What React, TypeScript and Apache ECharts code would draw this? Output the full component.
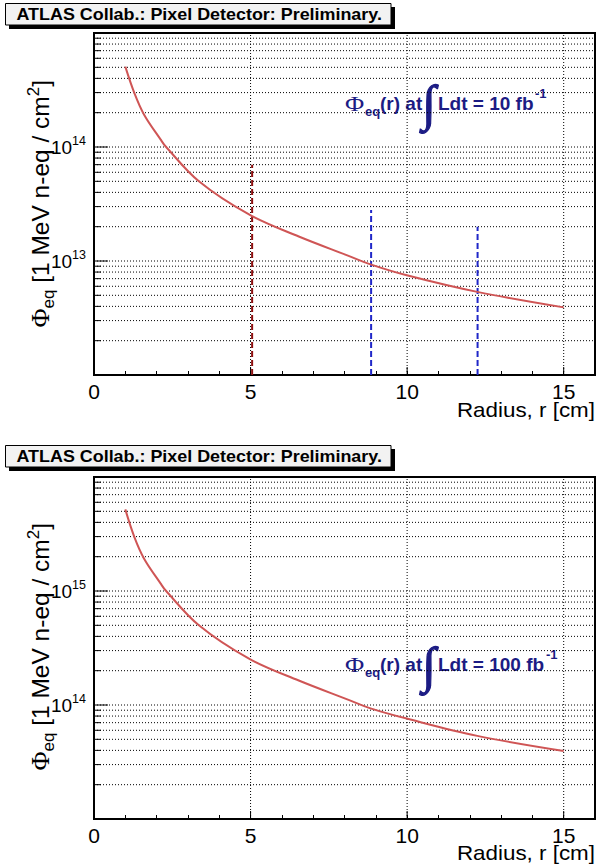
import React, { useEffect, useRef } from "react";
import * as echarts from "echarts";

// ---- data ----
const radius = [1.0, 1.29, 1.6, 2.13, 2.29, 3.35, 4.95, 6.54, 8.13, 8.83, 9.99, 12.24, 15.0];
const fluence10 = [5.07e14, 2.97e14, 1.92e14, 1.16e14, 1.01e14, 5.0e13, 2.56e13, 1.64e13, 1.11e13, 9.35e12, 7.5e12, 5.36e12, 3.92e12];
const fluence100 = [5.2e15, 2.97e15, 1.92e15, 1.16e15, 1.01e15, 5.0e14, 2.55e14, 1.64e14, 1.11e14, 9.35e13, 7.6e13, 5.36e13, 3.95e13];
const layerRadius = [5.05, 8.85, 12.25];
const layerTop = [7e13, 2.8e13, 2e13];
const xRange = [0, 16];
const xMajorTicks = [0, 5, 10, 15];
const yRangeTop = [1e12, 1e15];
const yRangeBottom = [1e13, 1e16];
const decadesTop = [12, 13, 14];
const decadesBottom = [13, 14, 15];
const minorMultipliers = [1, 2, 3, 4, 5, 6, 7, 8, 9];
const lumiLabels = ["10", "100"];
const titleText = "ATLAS Collab.: Pixel Detector: Preliminary.";
const xAxisTitle = "Radius, r [cm]";

const FONT = "'Liberation Sans', Arial, Helvetica, sans-serif";
const NAVY = "#1c1c84";

function gridValues(decades: number[]) {
  const out: number[][] = [];
  decades.forEach((d) => minorMultipliers.forEach((m) => out.push([xRange[0], m * Math.pow(10, d)])));
  return out;
}

function hGridSeries(idx: number, yMin: number, yMax: number, decades: number[]) {
  return {
    type: "custom",
    xAxisIndex: idx,
    yAxisIndex: idx,
    z: 1,
    silent: true,
    clip: false,
    data: gridValues(decades),
    encode: { x: 0, y: 1 },
    renderItem: (_p: any, api: any) => {
      const v = api.value(1);
      const p0 = api.coord([xRange[0], v]);
      const p1 = api.coord([xRange[1], v]);
      const lg = Math.log10(v);
      const major = Math.abs(lg - Math.round(lg)) < 1e-9;
      const children: any[] = [];
      if (v > yMin && v < yMax) {
        children.push({
          type: "line",
          shape: { x1: p0[0], y1: p0[1], x2: p1[0], y2: p1[1] },
          style: { stroke: "#000", lineWidth: 1, lineDash: [1, 2] },
        });
      }
      if (v > yMin) {
        children.push({
          type: "line",
          shape: { x1: p0[0], y1: p0[1], x2: p0[0] + (major ? 14 : 7), y2: p0[1] },
          style: { stroke: "#000", lineWidth: 1 },
        });
      }
      return { type: "group", children };
    },
  };
}

function vGridSeries(idx: number, yMin: number, yMax: number) {
  return {
    type: "custom",
    xAxisIndex: idx,
    yAxisIndex: idx,
    z: 1,
    silent: true,
    clip: false,
    data: xMajorTicks.map((x) => [x, yMin]),
    encode: { x: 0, y: 1 },
    renderItem: (_p: any, api: any) => {
      const x = api.value(0);
      const p0 = api.coord([x, yMin]);
      const p1 = api.coord([x, yMax]);
      const children: any[] = [];
      if (x > xRange[0]) {
        children.push({
          type: "line",
          shape: { x1: p0[0], y1: p0[1], x2: p1[0], y2: p1[1] },
          style: { stroke: "#000", lineWidth: 1, lineDash: [1, 2] },
        });
      }
      children.push({
        type: "line",
        shape: { x1: p0[0], y1: p0[1], x2: p0[0], y2: p0[1] - 8 },
        style: { stroke: "#000", lineWidth: 1 },
      });
      return { type: "group", children };
    },
  };
}

function titleBox(oy: number) {
  return [
    { type: "rect", shape: { x: 9, y: 7 + oy, width: 386, height: 22 }, style: { fill: "#000" } },
    {
      type: "rect",
      shape: { x: 5.5, y: 3.5 + oy, width: 385.5, height: 21.5 },
      style: { fill: "#f2f2f2", stroke: "#000", lineWidth: 1 },
    },
    {
      type: "text",
      x: 16.5,
      y: 14.5 + oy,
      scaleX: 1.12,
      style: {
        text: titleText,
        fill: "#000",
        fontFamily: FONT,
        fontWeight: "bold",
        fontSize: 16,
        align: "left",
        verticalAlign: "middle",
      },
    },
  ];
}

function annotation(baseline: number, lumi: string, supX: number) {
  const bold = { fontFamily: FONT, fontWeight: "bold", fill: NAVY };
  return [
    {
      type: "text",
      x: 345,
      y: baseline - 6.5,
      scaleX: 1.25,
      style: { text: "Φ", fontFamily: "'Liberation Serif', serif", fontSize: 21, fill: NAVY, verticalAlign: "middle" },
    },
    { type: "text", x: 365, y: baseline + 1, style: { ...bold, text: "eq", fontSize: 13, verticalAlign: "middle" } },
    { type: "text", x: 380, y: baseline - 6.7, style: { ...bold, text: "(r) at", fontSize: 19, verticalAlign: "middle" } },
    {
      type: "text",
      x: 422,
      y: baseline - 7,
      style: {
        text: "∫",
        fontFamily: "'Liberation Serif', serif",
        fontSize: 50,
        fill: NAVY,
        stroke: NAVY,
        lineWidth: 1.2,
        verticalAlign: "middle",
      },
    },
    { type: "text", x: 438, y: baseline - 6.7, style: { ...bold, text: `Ldt = ${lumi} fb`, fontSize: 19, verticalAlign: "middle" } },
    { type: "text", x: supX, y: baseline - 17, style: { ...bold, text: "-1", fontSize: 13, verticalAlign: "middle" } },
  ];
}

function yTitle(topY: number) {
  return {
    type: "text",
    x: 40.5,
    y: topY,
    rotation: Math.PI / 2,
    style: {
      text: "{p|Φ}{sub|eq}{n| [1 MeV n-eq / cm}{sup|2}{n|]}",
      align: "right",
      verticalAlign: "middle",
      fill: "#000",
      fontFamily: FONT,
      fontSize: 24.5,
      rich: {
        p: { fontFamily: "'Liberation Serif', serif", fontSize: 26, lineHeight: 32, verticalAlign: "middle", fill: "#000" },
        sub: { fontFamily: FONT, fontSize: 17, lineHeight: 17, verticalAlign: "bottom", fill: "#000" },
        n: { fontFamily: FONT, fontSize: 24.5, lineHeight: 32, verticalAlign: "middle", fill: "#000" },
        sup: { fontFamily: FONT, fontSize: 17, lineHeight: 17, verticalAlign: "top", fill: "#000" },
      },
    },
  };
}

function xTitle(midY: number) {
  return {
    type: "text",
    x: 595,
    y: midY,
    scaleX: 1.12,
    style: { text: xAxisTitle, fill: "#000", fontFamily: FONT, fontSize: 20, align: "right", verticalAlign: "middle" },
  };
}

function xAxisCfg(idx: number) {
  return {
    type: "value",
    gridIndex: idx,
    min: xRange[0],
    max: xRange[1],
    interval: 1,
    axisLine: { show: true, lineStyle: { color: "#000", width: 2 } },
    axisTick: { show: true, inside: true, length: 4, lineStyle: { color: "#000", width: 1 } },
    axisLabel: {
      show: true,
      margin: 6,
      fontSize: 21,
      fontFamily: FONT,
      color: "#000",
      formatter: (v: number) => (v % 5 === 0 && v < xRange[1] ? String(v) : ""),
    },
    splitLine: { show: false },
  };
}

function yAxisCfg(idx: number, range: number[]) {
  const eMin = Math.round(Math.log10(range[0]));
  const eMax = Math.round(Math.log10(range[1]));
  return {
    type: "log",
    logBase: 10,
    gridIndex: idx,
    min: range[0],
    max: range[1],
    axisLine: { show: true, lineStyle: { color: "#000", width: 2 } },
    axisTick: { show: false },
    splitLine: { show: false },
    axisLabel: {
      show: true,
      margin: 8,
      color: "#000",
      formatter: (v: number) => {
        const e = Math.round(Math.log10(v));
        if (e <= eMin || e >= eMax) return "";
        return `{b|10}{s|${e}}`;
      },
      rich: {
        b: { fontFamily: FONT, fontSize: 19, lineHeight: 26, verticalAlign: "middle", color: "#000" },
        s: { fontFamily: FONT, fontSize: 12.5, lineHeight: 12, verticalAlign: "top", color: "#000" },
      },
    },
  };
}

function curve(idx: number, values: number[]) {
  return {
    type: "line",
    xAxisIndex: idx,
    yAxisIndex: idx,
    z: 4,
    symbol: "none",
    smooth: 0.35,
    silent: true,
    data: radius.map((r, i) => [r, values[i]]),
    lineStyle: { color: "#cf5555", width: 2 },
  };
}

const layerColors = ["#8e1010", "#2027c8", "#2027c8"];

function layerSeries() {
  return layerRadius.map((r, i) => ({
    type: "line",
    xAxisIndex: 0,
    yAxisIndex: 0,
    z: 3,
    symbol: "none",
    silent: true,
    data: [
      [r, yRangeTop[0]],
      [r, layerTop[i]],
    ],
    lineStyle: { color: layerColors[i], width: 2, type: [6, 3] },
  }));
}

export default function App() {
  const ref = useRef<HTMLDivElement>(null);
  useEffect(() => {
    if (!ref.current) return;
    const chart = echarts.init(ref.current, undefined, { renderer: "svg" });
    chart.setOption({
      animation: false,
      backgroundColor: "#fff",
      textStyle: { fontFamily: FONT },
      grid: [
        { left: 94, top: 33, width: 503, height: 342, show: true, borderColor: "#000", borderWidth: 2, backgroundColor: "transparent" },
        { left: 94, top: 477, width: 503, height: 342, show: true, borderColor: "#000", borderWidth: 2, backgroundColor: "transparent" },
      ],
      xAxis: [xAxisCfg(0), xAxisCfg(1)],
      yAxis: [yAxisCfg(0, yRangeTop), yAxisCfg(1, yRangeBottom)],
      series: [
        hGridSeries(0, yRangeTop[0], yRangeTop[1], decadesTop),
        vGridSeries(0, yRangeTop[0], yRangeTop[1]),
        curve(0, fluence10),
        ...layerSeries(),
        hGridSeries(1, yRangeBottom[0], yRangeBottom[1], decadesBottom),
        vGridSeries(1, yRangeBottom[0], yRangeBottom[1]),
        curve(1, fluence100),
      ],
      graphic: {
        elements: [
          ...titleBox(0),
          ...titleBox(442),
          ...annotation(110, lumiLabels[0], 535),
          ...annotation(671.5, lumiLabels[1], 546),
          yTitle(80),
          yTitle(523),
          xTitle(410),
          xTitle(853),
        ],
      },
    });
    return () => chart.dispose();
  }, []);
  return (
    <div
      ref={ref}
      style={{ position: "absolute", left: 0, top: 0, width: 598, height: 867, background: "#fff" }}
    />
  );
}
